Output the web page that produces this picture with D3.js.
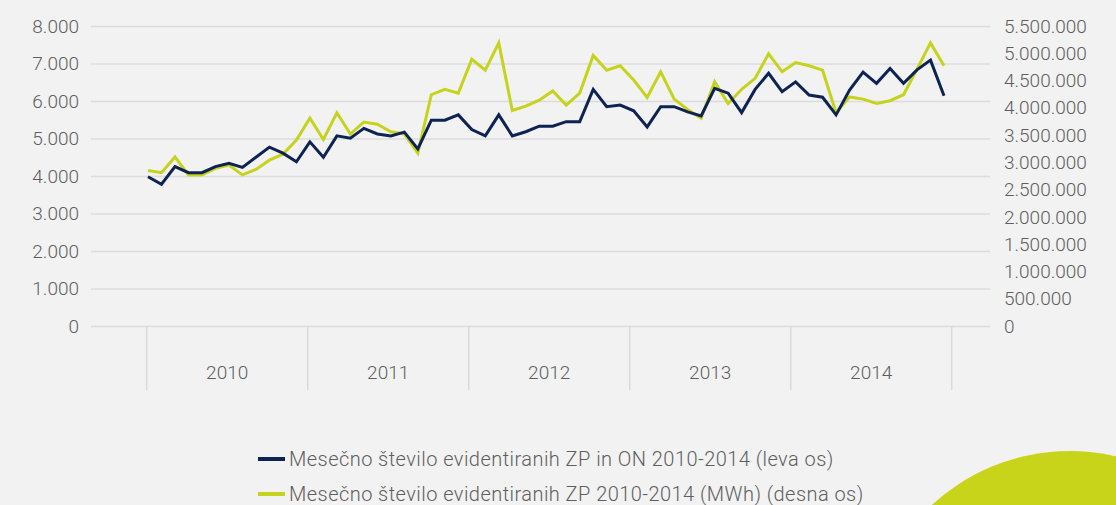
<!DOCTYPE html>
<html>
<head>
<meta charset="utf-8">
<script src="https://cdn.jsdelivr.net/npm/d3@7"></script>
<title>Mesečno število evidentiranih ZP</title>
<style>
	body { margin: 0; background: #f2f2f2; overflow: hidden; }
	svg text { font-family: Roboto, "Noto Sans", sans-serif; font-weight: 300; fill: #5e5e5e; }
	.grid line { stroke: #dcdcdc; stroke-width: 1.5px; }
	.grid .domain { display: none; }
	.line { fill: none; stroke-width: 3px; stroke-linejoin: miter; }
</style>
</head>
<body>
<svg id="chart" width="1116" height="505"></svg>
<script>
	var years = ["2010", "2011", "2012", "2013", "2014"];

	// left axis: number of ZP and ON, monthly
	var countZPON = [
		3980, 3780, 4250, 4090, 4090, 4250, 4340, 4230, 4500, 4770, 4610, 4380,
		4910, 4500, 5070, 5010, 5270, 5120, 5070, 5170, 4720, 5490, 5490, 5630,
		5240, 5070, 5630, 5070, 5180, 5330, 5330, 5450, 5450, 6310, 5850, 5890,
		5740, 5310, 5850, 5850, 5710, 5600, 6340, 6210, 5690, 6310, 6740, 6250,
		6510, 6160, 6100, 5630, 6290, 6770, 6470, 6870, 6470, 6830, 7090, 6140
	];

	// right axis: MWh, monthly
	var energyZP = [
		2850000, 2810000, 3100000, 2770000, 2770000, 2890000, 2950000, 2770000, 2870000, 3040000, 3150000, 3410000,
		3810000, 3420000, 3910000, 3520000, 3740000, 3700000, 3560000, 3520000, 3170000, 4240000, 4340000, 4270000,
		4890000, 4690000, 5190000, 3950000, 4030000, 4140000, 4310000, 4050000, 4270000, 4960000, 4690000, 4770000,
		4510000, 4190000, 4660000, 4160000, 3970000, 3810000, 4480000, 4080000, 4340000, 4540000, 4990000, 4660000,
		4830000, 4770000, 4690000, 3910000, 4200000, 4160000, 4080000, 4130000, 4240000, 4710000, 5190000, 4770000
	];

	var leftTicks = [0, 1000, 2000, 3000, 4000, 5000, 6000, 7000, 8000];
	var rightTicks = [0, 500000, 1000000, 1500000, 2000000, 2500000, 3000000, 3500000, 4000000, 4500000, 5000000, 5500000];

	var legendLabels = [
		"Mesečno število evidentiranih ZP in ON 2010-2014 (leva os)",
		"Mesečno število evidentiranih ZP 2010-2014 (MWh) (desna os)"
	];
	var colors = ["#0d2352", "#c6d31c"];

	var sl = d3.formatLocale({decimal: ",", thousands: ".", grouping: [3], currency: ["", " €"]});
	var fmt = sl.format(",d");

	var svg = d3.select("#chart");

	// decorative circle bottom right
	svg.append("circle")
		.attr("cx", 1070)
		.attr("cy", 655)
		.attr("r", 204)
		.attr("fill", "#c8d419");

	var plotLeft = 91, plotRight = 990, plotTop = 26, plotBottom = 326;

	var yLeft = d3.scaleLinear().domain([0, 8000]).range([plotBottom, plotTop]);
	var yRight = d3.scaleLinear().domain([0, 5500000]).range([plotBottom, plotTop]);
	var xYear = d3.scaleBand().domain(years).range([146.7, 951.7]);
	var xMonth = d3.scaleLinear().domain([0, countZPON.length - 1]).range([148, 944]);

	// gridlines + left labels
	var gLeft = svg.append("g")
		.attr("class", "grid")
		.attr("transform", "translate(" + plotLeft + ",0)")
		.call(d3.axisLeft(yLeft)
			.tickValues(leftTicks)
			.tickFormat(fmt)
			.tickSizeInner(-(plotRight - plotLeft))
			.tickSizeOuter(0)
			.tickPadding(12));
	gLeft.selectAll("text")
		.style("font-size", "19px")
		.style("font-family", null)
		.attr("fill", null);

	// right labels
	var gRight = svg.append("g")
		.attr("transform", "translate(1004,0)")
		.call(d3.axisRight(yRight)
			.tickValues(rightTicks)
			.tickFormat(fmt)
			.tickSize(0)
			.tickPadding(0));
	gRight.select(".domain").remove();
	gRight.selectAll("text")
		.style("font-size", "19px")
		.style("font-family", null)
		.attr("fill", null);

	// year separators
	var bounds = years.map(function(d) { return xYear(d); });
	bounds.push(xYear(years[years.length - 1]) + xYear.bandwidth());
	svg.append("g")
		.selectAll("line")
		.data(bounds)
		.enter().append("line")
		.attr("x1", function(d) { return d; })
		.attr("x2", function(d) { return d; })
		.attr("y1", plotBottom)
		.attr("y2", 390)
		.attr("stroke", "#dadada")
		.attr("stroke-width", 1.5);

	svg.append("g")
		.selectAll("text")
		.data(years)
		.enter().append("text")
		.attr("x", function(d) { return xYear(d) + xYear.bandwidth() / 2; })
		.attr("y", 379)
		.attr("text-anchor", "middle")
		.style("font-size", "19px")
		.text(function(d) { return d; });

	// series
	var lineLeft = d3.line()
		.x(function(d, i) { return xMonth(i); })
		.y(function(d) { return yLeft(d); });
	var lineRight = d3.line()
		.x(function(d, i) { return xMonth(i); })
		.y(function(d) { return yRight(d); });

	svg.append("path")
		.datum(energyZP)
		.attr("class", "line")
		.attr("stroke", colors[1])
		.attr("d", lineRight);

	svg.append("path")
		.datum(countZPON)
		.attr("class", "line")
		.attr("stroke", colors[0])
		.attr("d", lineLeft);

	// legend
	var legend = svg.append("g")
		.selectAll("g")
		.data(legendLabels)
		.enter().append("g")
		.attr("transform", function(d, i) { return "translate(258," + (459 + i * 35) + ")"; });
	legend.append("line")
		.attr("x1", 0)
		.attr("x2", 27)
		.attr("stroke", function(d, i) { return colors[i]; })
		.attr("stroke-width", 4);
	legend.append("text")
		.attr("x", 31)
		.attr("y", 7)
		.style("font-size", "20px")
		.style("letter-spacing", "0.45px")
		.text(function(d) { return d; });
</script>
</body>
</html>
